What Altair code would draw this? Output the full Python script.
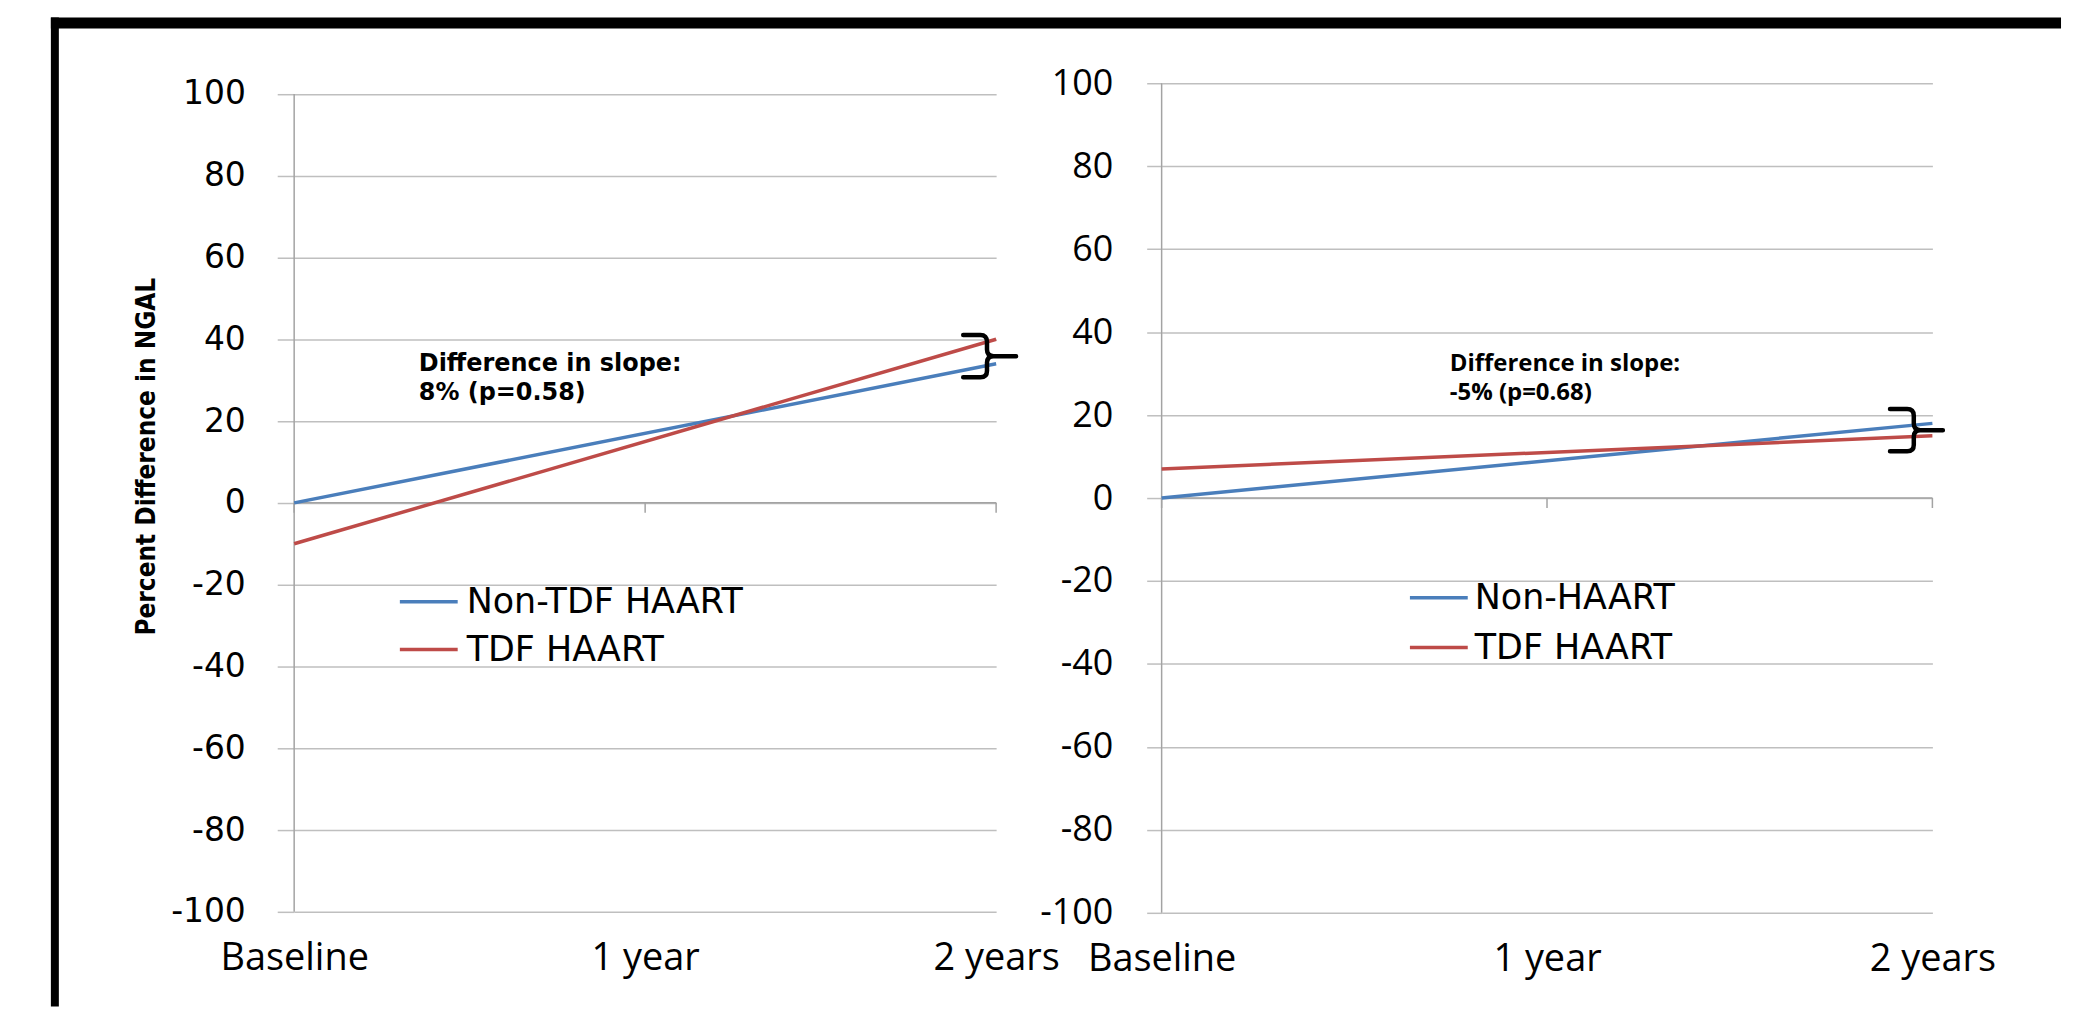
import json
import altair as alt
import pandas as pd

# ---------------- data ----------------
categories = ["Baseline", "1 year", "2 years"]
y_ticks = [-100, -80, -60, -40, -20, 0, 20, 40, 60, 80, 100]
y_title = "Percent Difference in NGAL"

left_series = ["Non-TDF HAART", "TDF HAART"]
left_baseline = [0, -10]
left_two_years = [34, 40]
left_note = ["Difference in slope:", "8% (p=0.58)"]

right_series = ["Non-HAART", "TDF HAART"]
right_baseline = [0, 7]
right_two_years = [18, 15]
right_note = ["Difference in slope:", "-5% (p=0.68)"]

series_colors = ["#4a7ebb", "#be4b48"]

# ---------------- styles ----------------
GRID = "#bfbfbf"
AXIS = "#a3a3a3"
XFONT = "Open Sans"
BRACE = ("M -1 -0.8 L -0.35 -0.8 Q -0.1 -0.8 -0.1 -0.55 L -0.1 -0.25 Q -0.1 0 0.15 0 L 1 0 "
         "M 0.15 0 Q -0.1 0 -0.1 0.25 L -0.1 0.55 Q -0.1 0.8 -0.35 0.8 L -1 0.8")
x_label_expr = json.dumps(categories) + "[datum.value]"


def make_panel(series, start, end, note, cfg):
    n = len(categories)
    t_start = categories.index("Baseline")
    t_end = categories.index("2 years")
    line_df = pd.DataFrame({
        "series": [s for s in series for _ in range(2)],
        "t": [t for _ in series for t in (t_start, t_end)],
        "value": [v for a, b in zip(start, end) for v in (a, b)],
    })
    cat_df = pd.DataFrame({"t": list(range(n)), "label": categories, "zero": [0] * n})
    axis_df = pd.DataFrame({"t": [t_start], "lo": [min(y_ticks)], "hi": [max(y_ticks)]})
    brace_df = pd.DataFrame({"t": [t_end], "mid": [sum(end) / len(end)]})
    one = pd.DataFrame({"k": [0]})

    xs = alt.Scale(domain=[0, n - 1], nice=False, zero=False)
    ys = alt.Scale(domain=[min(y_ticks), cfg["ymax"]], nice=False, zero=False)
    x_axis = alt.Axis(values=list(range(n)), labelExpr=x_label_expr, grid=False, domain=False,
                      ticks=False, tickSize=0, labelPadding=cfg["xlab_pad"], labelFont=XFONT,
                      labelFontSize=38, labelColor="black", labelFlush=False, labelOverlap=False,
                      title=None)
    yk = dict(values=y_ticks, labelExpr="'' + datum.value", grid=True, gridColor=GRID,
              gridWidth=1.5, domain=False, ticks=True, tickSize=cfg["tick"], tickColor=GRID,
              tickWidth=1.5, labelPadding=cfg["ylab_pad"], labelFont=cfg["ylab_font"],
              labelFontSize=cfg["ylab_size"], labelColor="black", labelOverlap=False)
    if cfg.get("title"):
        yk.update(title=cfg["title"], titleFont="DejaVu Sans Condensed, DejaVu Sans",
                  titleFontSize=26, titleFontWeight="bold", titleColor="black", titleAngle=270,
                  titleX=cfg["title_x"], titleY=cfg["title_y"], titleAlign="center",
                  titleBaseline="middle")
    else:
        yk.update(title=None)
    y_axis = alt.Axis(**yk)

    def X(f):
        return alt.X(f, type="quantitative", scale=xs, axis=x_axis)

    def Y(f):
        return alt.Y(f, type="quantitative", scale=ys, axis=y_axis)

    layers = []
    layers.append(alt.Chart(cat_df.head(1)).mark_rule(color=AXIS, strokeWidth=1.5)
                  .encode(y=Y("zero")))
    layers.append(alt.Chart(cat_df).mark_tick(orient="vertical", size=10, thickness=1.5,
                                              color=AXIS, yOffset=5, opacity=1)
                  .encode(x=X("t"), y=Y("zero")))
    layers.append(alt.Chart(axis_df).mark_rule(color=AXIS, strokeWidth=1.5)
                  .encode(x=X("t"), y=Y("lo"), y2=alt.Y2("hi")))
    layers.append(alt.Chart(line_df).mark_line(strokeWidth=3.5)
                  .encode(x=X("t"), y=Y("value"),
                          color=alt.Color("series:N",
                                          scale=alt.Scale(domain=series, range=series_colors),
                                          legend=None)))
    layers.append(alt.Chart(brace_df).mark_point(shape=BRACE, size=2809, filled=False,
                                                 color="black", strokeWidth=4.5, opacity=1,
                                                 strokeCap="round", strokeJoin="round",
                                                 xOffset=cfg["brace_dx"], yOffset=cfg["brace_dy"])
                  .encode(x=X("t"), y=Y("mid")))
    # legend
    lx0, lx1, ltx = cfg["legend_x"]
    for i, (name, col) in enumerate(zip(series, series_colors)):
        ly = cfg["legend_y"][i]
        layers.append(alt.Chart(one).mark_rule(color=col, strokeWidth=3.5)
                      .encode(x=alt.value(lx0), x2=alt.value(lx1), y=alt.value(ly)))
        layers.append(alt.Chart(one).mark_text(align="left", baseline="middle", font="DejaVu Sans",
                                               fontSize=35, color="black")
                      .encode(x=alt.value(ltx), y=alt.value(ly), text=alt.value(name)))
    # annotation
    for i, line in enumerate(note):
        layers.append(alt.Chart(one).mark_text(align="left", baseline="alphabetic",
                                               font=cfg["note_font"], fontSize=cfg["note_size"],
                                               fontWeight="bold", color="black")
                      .encode(x=alt.value(cfg["note_x"]), y=alt.value(cfg["note_y"][i]),
                              text=alt.value(line)))
    # outer frame
    if cfg.get("frame"):
        layers.append(alt.Chart(one).mark_rule(color="black", strokeWidth=11)
                      .encode(x=alt.value(-244), x2=alt.value(1772), y=alt.value(-60.5)))
        layers.append(alt.Chart(one).mark_rule(color="black", strokeWidth=8)
                      .encode(x=alt.value(-240), y=alt.value(-66), y2=alt.value(926)))

    return alt.layer(*layers).properties(width=cfg["width"], height=cfg["height"])


left = make_panel(left_series, left_baseline, left_two_years, left_note, dict(
    width=704, height=831, ymax=102.6, xlab_pad=28, tick=17, ylab_pad=32,
    ylab_font="DejaVu Sans", ylab_size=33, title=y_title, title_x=-148, title_y=374,
    brace_dx=-6.5, brace_dy=4.7, legend_x=(106, 164, 173), legend_y=(520, 568),
    note_font="DejaVu Sans", note_size=24, note_x=125, note_y=(289, 318), frame=True))

right = make_panel(right_series, right_baseline, right_two_years, right_note, dict(
    width=773, height=832, ymax=100, xlab_pad=28, tick=15, ylab_pad=34,
    ylab_font="Open Sans", ylab_size=36,
    brace_dx=-16, brace_dy=0.6, legend_x=(249, 307, 314), legend_y=(516, 566),
    note_font="Open Sans", note_size=24, note_x=289, note_y=(289, 318)))

chart = (alt.hconcat(left, right, spacing=166, bounds="flush")
         .resolve_scale(x="independent", y="independent", color="independent")
         .properties(padding={"left": 37, "top": 3, "right": 0, "bottom": 0})
         .configure_view(stroke="transparent"))

chart.save("out.html", embed_options={"renderer": "svg", "actions": False})
